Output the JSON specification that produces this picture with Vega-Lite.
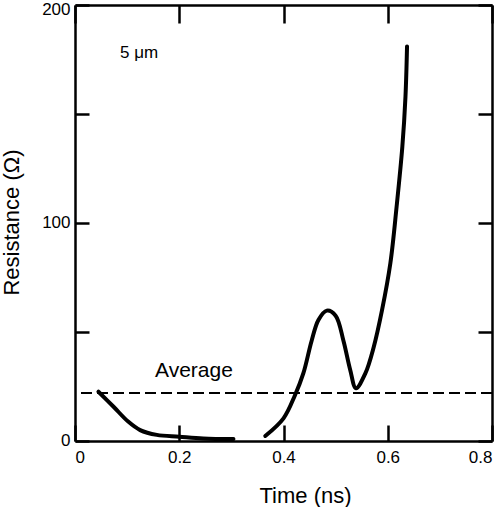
{
  "$schema": "https://vega.github.io/schema/vega-lite/v6.json",
  "width": 417,
  "height": 436,
  "autosize": {"type": "none"},
  "padding": {"left": 75, "top": 5, "right": 8, "bottom": 66},
  "background": "white",
  "config": {
    "view": {"stroke": null},
    "font": "Liberation Sans",
    "axis": {
      "grid": false,
      "domainColor": "black",
      "domainWidth": 2.5,
      "tickColor": "black",
      "tickWidth": 2.5,
      "labelColor": "black",
      "labelFont": "Liberation Sans",
      "labelFontSize": 17,
      "titleColor": "black",
      "titleFont": "Liberation Sans",
      "titleFontSize": 22,
      "titleFontWeight": "normal"
    }
  },
  "resolve": {"axis": {"x": "independent", "y": "independent"}},
  "layer": [
    {
      "data": {"values": [{"avg": 22}]},
      "mark": {"type": "rule", "color": "black", "strokeWidth": 2, "strokeDash": [11, 5]},
      "encoding": {
        "y": {"field": "avg", "type": "quantitative", "scale": {"domain": [0, 200], "nice": false}, "axis": null}
      }
    },
    {
      "data": {
        "values": [
          {"t": 0.045, "r": 22.6, "seg": "a"},
          {"t": 0.074, "r": 15.7, "seg": "a"},
          {"t": 0.102, "r": 8.9, "seg": "a"},
          {"t": 0.125, "r": 5.0, "seg": "a"},
          {"t": 0.157, "r": 2.8, "seg": "a"},
          {"t": 0.2, "r": 2.0, "seg": "a"},
          {"t": 0.246, "r": 1.2, "seg": "a"},
          {"t": 0.304, "r": 0.9, "seg": "a"},
          {"t": 0.365, "r": 2.3, "seg": "b"},
          {"t": 0.4, "r": 10.4, "seg": "b"},
          {"t": 0.422, "r": 21, "seg": "b"},
          {"t": 0.438, "r": 31, "seg": "b"},
          {"t": 0.454, "r": 46, "seg": "b"},
          {"t": 0.467, "r": 55.5, "seg": "b"},
          {"t": 0.483, "r": 59.8, "seg": "b"},
          {"t": 0.5, "r": 57.5, "seg": "b"},
          {"t": 0.515, "r": 46, "seg": "b"},
          {"t": 0.528, "r": 32.6, "seg": "b"},
          {"t": 0.539, "r": 24.2, "seg": "b"},
          {"t": 0.557, "r": 31, "seg": "b"},
          {"t": 0.573, "r": 43, "seg": "b"},
          {"t": 0.589, "r": 60, "seg": "b"},
          {"t": 0.605, "r": 81.5, "seg": "b"},
          {"t": 0.617, "r": 107.5, "seg": "b"},
          {"t": 0.628, "r": 135, "seg": "b"},
          {"t": 0.634, "r": 158, "seg": "b"},
          {"t": 0.637, "r": 181, "seg": "b"}
        ]
      },
      "mark": {"type": "line", "color": "black", "strokeWidth": 4, "interpolate": "catmull-rom", "strokeCap": "round"},
      "encoding": {
        "x": {
          "field": "t", "type": "quantitative",
          "scale": {"domain": [0, 0.8], "nice": false},
          "axis": {
            "orient": "bottom", "values": [0, 0.2, 0.4, 0.6, 0.8], "format": "~g",
            "tickSize": -16, "labelPadding": 24,
            "title": "Time (ns)", "titleX": 230, "titleY": 61, "titleBaseline": "alphabetic", "titleAlign": "center"
          }
        },
        "y": {
          "field": "r", "type": "quantitative",
          "scale": {"domain": [0, 200], "nice": false},
          "axis": {
            "orient": "left", "values": [0, 50, 100, 150, 200],
            "labelExpr": "datum.value % 100 == 0 ? datum.label : ''",
            "tickSize": -14, "labelPadding": 19,
            "labelOffset": {"condition": {"test": "datum.value == 200", "value": 4}, "value": -1},
            "title": "Resistance (Ω)", "titleAngle": 270, "titleX": -57, "titleY": 217,
            "titleBaseline": "alphabetic", "titleAlign": "center"
          }
        },
        "detail": {"field": "seg"}
      }
    },
    {
      "data": {
        "values": [
          {"t": 0.0864, "r": 175.5, "label": "5 μm", "size": 17},
          {"t": 0.1536, "r": 29.5, "label": "Average", "size": 21}
        ]
      },
      "mark": {"type": "text", "align": "left", "baseline": "alphabetic", "color": "black", "font": "Liberation Sans"},
      "encoding": {
        "x": {
          "field": "t", "type": "quantitative",
          "scale": {"domain": [0, 0.8], "nice": false},
          "axis": {"orient": "top", "values": [0, 0.2, 0.4, 0.6, 0.8], "labels": false, "tickSize": -18, "title": null}
        },
        "y": {
          "field": "r", "type": "quantitative",
          "scale": {"domain": [0, 200], "nice": false},
          "axis": {"orient": "right", "values": [0, 50, 100, 150, 200], "labels": false, "tickSize": -14, "title": null}
        },
        "text": {"field": "label"},
        "size": {"field": "size", "type": "quantitative", "scale": null, "legend": null}
      }
    }
  ]
}
